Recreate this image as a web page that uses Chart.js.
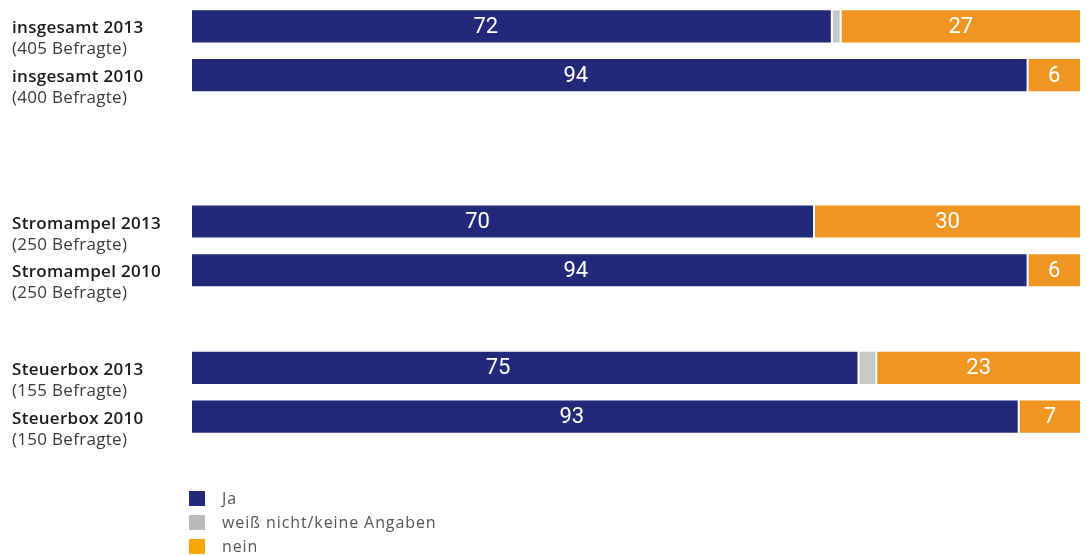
<!DOCTYPE html>
<html lang="de">
<head>
<meta charset="utf-8">
<title>Befragung</title>
<script src="https://cdn.jsdelivr.net/npm/chart.js@4"></script>
<style>
  html, body { margin: 0; padding: 0; background: #fff; }
  #wrap { position: relative; width: 1089px; height: 556px; }
  #legend { position: absolute; left: 189px; top: 486px; font: 16px "Open Sans", sans-serif; letter-spacing: 0.9px; color: #555; }
  #legend .item { display: flex; align-items: center; height: 24px; }
  #legend .box { width: 16px; height: 15px; margin-right: 17px; }
</style>
</head>
<body>
<div id="wrap">
  <canvas id="chart" width="1089" height="556"></canvas>
  <div id="legend"></div>
</div>
<script>
// Zeilen (leere Einträge = Abstand zwischen den Gruppen)
const rowNames = ['insgesamt 2013', 'insgesamt 2010', '', '', 'Stromampel 2013', 'Stromampel 2010', '', 'Steuerbox 2013', 'Steuerbox 2010'];
const rowCounts = ['(405 Befragte)', '(400 Befragte)', '', '', '(250 Befragte)', '(250 Befragte)', '', '(155 Befragte)', '(150 Befragte)'];

const seriesNames = ['Ja', 'weiß nicht/keine Angaben', 'nein'];
const ja = [72, 94, null, null, 70, 94, null, 75, 93];
const weissNicht = [1, null, null, null, null, null, null, 2, null];
const nein = [27, 6, null, null, 30, 6, null, 23, 7];

const barColors = ['#22287a', '#c8c8c8', '#f0951f'];
const legendColors = ['#232a7c', '#b9babb', '#f6a800'];

// Zeilenbeschriftung links: fett der Name, darunter die Anzahl Befragte
const rowLabelPlugin = {
  id: 'rowLabels',
  afterDraw(chart) {
    const { ctx } = chart;
    const y = chart.scales.y;
    ctx.save();
    ctx.textAlign = 'left';
    ctx.textBaseline = 'alphabetic';
    ctx.letterSpacing = '0.3px';
    rowNames.forEach((name, i) => {
      if (!name) return;
      const cy = y.getPixelForValue(i);
      ctx.font = '600 17px "Open Sans", sans-serif';
      ctx.fillStyle = '#1a1a1a';
      ctx.fillText(name, 12, cy + 7);
      ctx.font = '17px "Open Sans", sans-serif';
      ctx.fillStyle = '#3a3a3a';
      ctx.fillText(rowCounts[i], 12, cy + 28);
    });
    ctx.restore();
  }
};

// Werte in die Balken schreiben (nur Ja und nein)
const valueLabelPlugin = {
  id: 'valueLabels',
  afterDatasetsDraw(chart) {
    const { ctx } = chart;
    ctx.save();
    ctx.font = '22px Roboto, sans-serif';
    ctx.fillStyle = '#fff';
    ctx.textAlign = 'center';
    ctx.textBaseline = 'middle';
    [0, 2].forEach(di => {
      const ds = chart.data.datasets[di];
      const frac = di === 0 ? 0.46 : 0.5;
      chart.getDatasetMeta(di).data.forEach((bar, i) => {
        const v = ds.data[i];
        if (!v) return;
        const x = bar.base + (bar.x - bar.base) * frac;
        ctx.fillText(String(v), x, bar.y + 1);
      });
    });
    ctx.restore();
  }
};

const mkSet = (label, data, color) => ({
  label, data,
  backgroundColor: color,
  borderColor: 'rgba(255,255,255,0.55)',
  borderWidth: 1,
  borderSkipped: false,
  categoryPercentage: 0.7,
  barPercentage: 1
});

new Chart(document.getElementById('chart'), {
  type: 'bar',
  data: {
    labels: rowNames,
    datasets: [
      mkSet(seriesNames[0], ja, barColors[0]),
      mkSet(seriesNames[1], weissNicht, barColors[1]),
      mkSet(seriesNames[2], nein, barColors[2])
    ]
  },
  options: {
    indexAxis: 'y',
    responsive: false,
    animation: false,
    layout: { padding: { left: 191, right: 8, top: 2, bottom: 115 } },
    plugins: { legend: { display: false }, tooltip: { enabled: false } },
    scales: {
      x: { stacked: true, min: 0, max: 100, display: false },
      y: { stacked: true, display: false }
    }
  },
  plugins: [rowLabelPlugin, valueLabelPlugin]
});

document.getElementById('legend').innerHTML = seriesNames.map((n, i) => `
  <div class="item"><span class="box" style="background:${legendColors[i]}"></span>${n}</div>
`).join('');
</script>
</body>
</html>
